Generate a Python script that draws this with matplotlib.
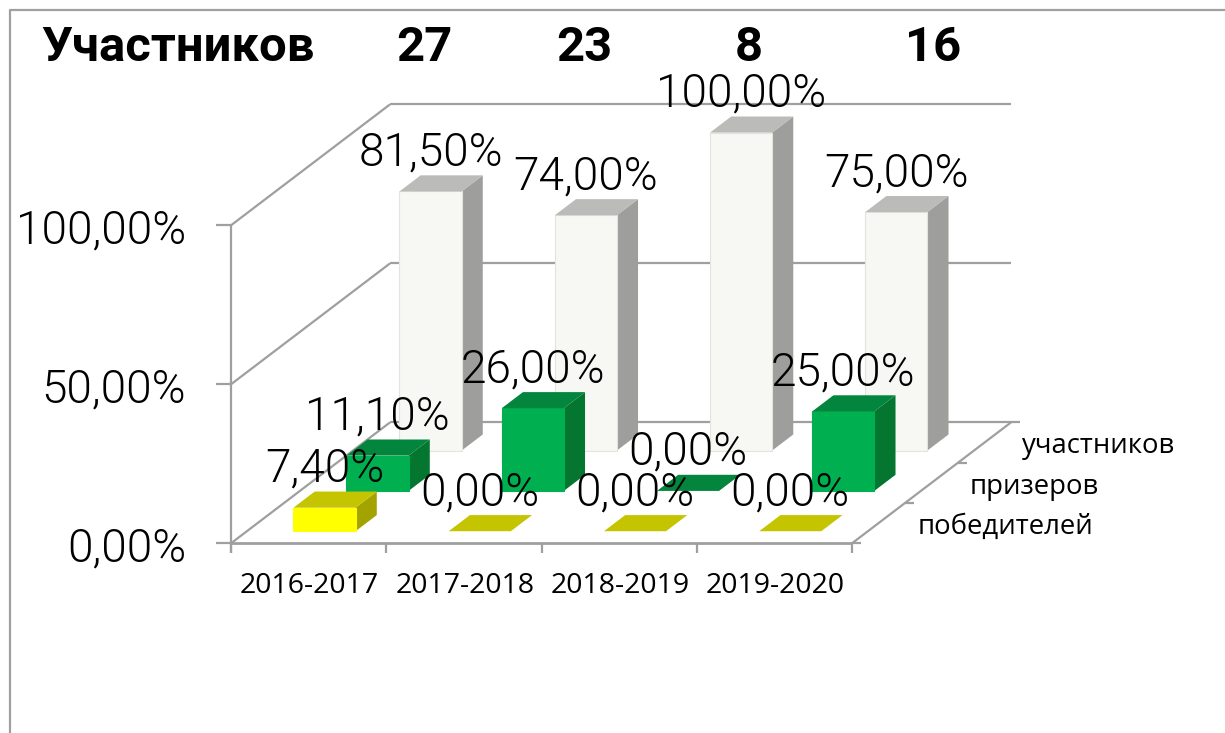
import matplotlib
matplotlib.use("Agg")
import matplotlib.pyplot as plt

# ---- data ----
years = ["2016-2017", "2017-2018", "2018-2019", "2019-2020"]
series_names = ["победителей", "призеров", "участников"]
winners = [7.4, 0.0, 0.0, 0.0]
prize = [11.1, 26.0, 0.0, 25.0]
participants = [81.5, 74.0, 100.0, 75.0]
header_title = "Участников"
header_counts = ["27", "23", "8", "16"]
z_ticks = [0, 50, 100]

def pct(v):
    return f"{v:.2f}".replace(".", ",") + "%"

# ---- projection (oblique, as in the 3D column chart) ----
X0, Y0 = 231.0, 543.3      # front-left floor corner (pixels)
CAT_W = 155.25             # px per category
DEPTH_DX, DEPTH_DY = 53.0, -40.3  # px per series slot
Z_PX = 3.18                # px per percent

def proj(x, d, z):
    return (X0 + x * CAT_W + d * DEPTH_DX, Y0 + d * DEPTH_DY - z * Z_PX)

fig = plt.figure(figsize=(12.25, 7.33), dpi=100)
ax = fig.add_axes([0, 0, 1, 1])
ax.set_xlim(0, 1225)
ax.set_ylim(733, 0)
ax.axis("off")

GRID = "#9f9f9f"
LIGHT = dict(family="Roboto", weight=300)
CAL = dict(family="Open Sans")

def line(p, q, lw=1.6, c=GRID, zo=1):
    ax.plot([p[0], q[0]], [p[1], q[1]], color=c, lw=lw, zorder=zo, solid_capstyle="butt")

nd = len(series_names)
nc = len(years)
# frame
ax.plot([10, 10, 1225], [733, 10, 10], color="#a0a0a0", lw=1.6, zorder=0)

# walls
for z in z_ticks:
    a, b, c = proj(0, 0, z), proj(0, nd, z), proj(nc, nd, z)
    line(a, b); line(b, c)
    line((a[0] - 15, a[1]), a)
line(proj(0, 0, 0), proj(nc, 0, 0), lw=2)
line(proj(0, 0, 100), (X0, Y0 + 10))
line(proj(nc, 0, 0), proj(nc, nd, 0))
for i in range(nc + 1):
    p = proj(i, 0, 0)
    line(p, (p[0], p[1] + 10))
for d in range(nd + 1):
    p = proj(nc, d, 0)
    line(p, (p[0] + 9, p[1]))

# bars
styles = [
    ("#FFFF00", "#C4C400", "#A3A300"),
    ("#00B050", "#03853E", "#04762F"),
    ("#F7F8F3", "#BBBBB9", "#9E9E9C"),
]
all_values = [winners, prize, participants]
BAR_A, BAR_B = 0.3, 0.7
labels = []
zorder = 5
for d in range(nd - 1, -1, -1):
    front, top, side = styles[d]
    for i, v in enumerate(all_values[d]):
        x0, x1 = i + BAR_A, i + BAR_B
        d0, d1 = d + BAR_A, d + BAR_B
        if v > 0:
            ax.fill(*zip(proj(x1, d0, 0), proj(x1, d1, 0), proj(x1, d1, v), proj(x1, d0, v)),
                    color=side, lw=0, zorder=zorder)
            ax.fill(*zip(proj(x0, d0, 0), proj(x1, d0, 0), proj(x1, d0, v), proj(x0, d0, v)),
                    facecolor=front, edgecolor="#e4e4dc" if d == 2 else front, lw=0.8, zorder=zorder)
        ax.fill(*zip(proj(x0, d0, v), proj(x1, d0, v), proj(x1, d1, v), proj(x0, d1, v)),
                color=top, lw=0, zorder=zorder)
        cx = proj((x0 + x1) / 2, d0, v)
        labels.append((cx[0], cx[1] - 39, pct(v)))
    zorder += 1

for x, y, s in labels:
    ax.text(x, y, s, ha="center", va="center", fontsize=33, color="black", zorder=20, **LIGHT)

# axis labels
for z in z_ticks:
    p = proj(0, 0, z)
    ax.text(186, p[1] + 5, pct(z), ha="right", va="center", fontsize=33, color="black", **LIGHT)
for i, y in enumerate(years):
    p = proj(i + 0.5, 0, 0)
    ax.text(p[0] + 1, 586, y, ha="center", va="center", fontsize=20.5, color="black", **CAL)
for s, (x, y) in zip(series_names, [(1005, 527), (1034, 487), (1099, 446)]):
    ax.text(x, y, s, ha="center", va="center", fontsize=19.8, color="black", **CAL)

# header
B = dict(family="Roboto", weight="bold", fontsize=35.3, color="black", va="center")
ax.text(41, 48, header_title, ha="left", **B)
for x, s in zip([424, 584, 749, 933], header_counts):
    ax.text(x, 48, s, ha="center", **B)

fig.savefig("out.png", dpi=100, facecolor="white")
